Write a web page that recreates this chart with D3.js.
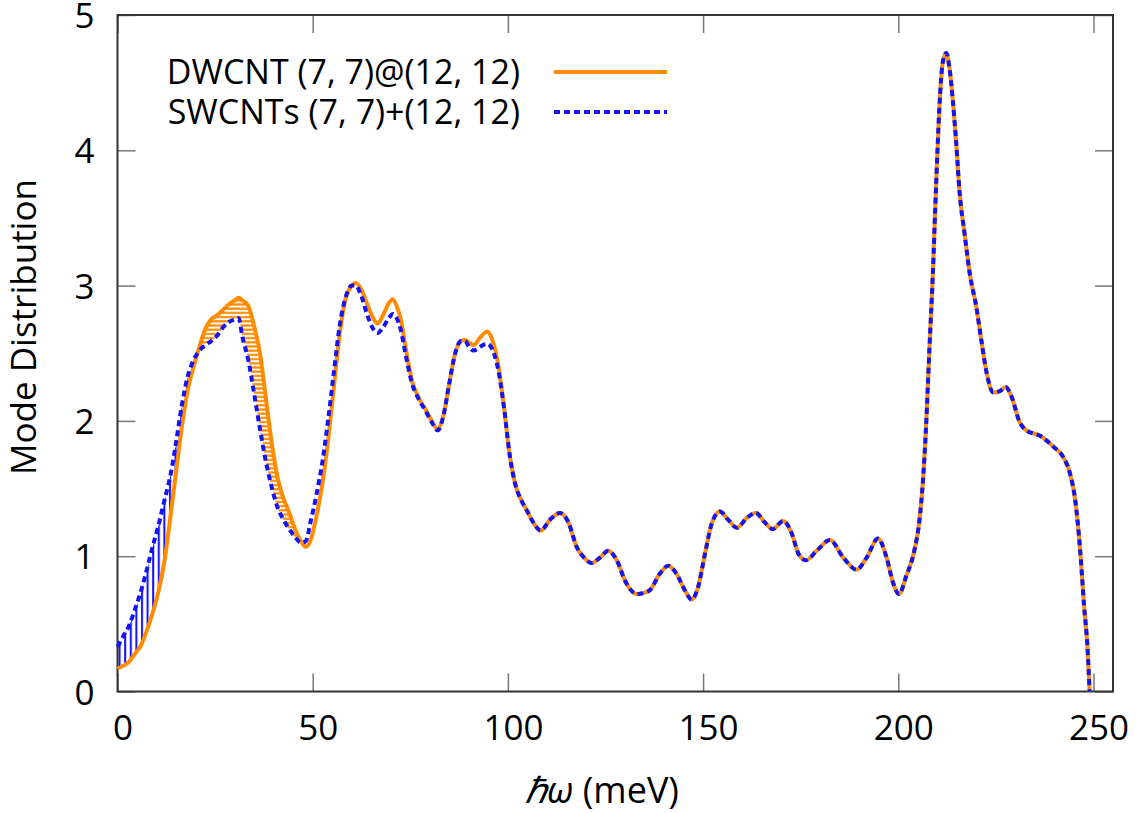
<!DOCTYPE html>
<html lang="en">
	<head>
		<meta charset="utf-8">
		<title>Mode Distribution</title>
		<script type="text/javascript" src="https://d3js.org/d3.v7.min.js"></script>
		<style type="text/css">
            body{margin:0;background:#fff;font-family:"Open Sans",sans-serif;}
            .tick text{font-family:"Open Sans",sans-serif;}
		</style>
	</head>
	<body>
		<div id="chart"></div>
		<script type="text/javascript">
            //energy grid (meV), shared by both curves
            var energy = [0,1.5,3,4.5,6,7.5,9,10.5,12,13.5,15,16.5,18,19.5,21,22.5,24,25.5,27,28.5,30,31,32,33.5,35,36.5,38,39.5,41,42.5,44,45.5,47,48.2,
                49.5,51,52.5,54,55.5,57,58.5,60,61,62.5,64,65.5,66.6,68,69.5,70.5,71.5,72.5,74,75.5,77,79,80.5,82,83.5,85,86.5,88,89,90,91.2,93,94.7,96,97.5,99,
                100.5,102,103.5,105,106.5,108.4,110.8,113.3,115.5,117.6,119.5,121.5,123.6,125.7,127.9,130,131.5,133,135,136.4,138.9,141.1,143.2,145.3,147.1,148.7,
                150.5,152.2,154.3,156.4,158.7,161.1,163.5,165.8,167.8,170.5,172.7,174.4,176.3,179.1,182.5,185.9,189.3,191.9,194.8,197,198.7,200.2,202,204.1,
                205.4,206.3,207.1,208,208.8,209.7,210.5,211.4,212.3,213.1,214,214.8,215.7,217,218.3,220,221.3,222.6,224.3,226,227.5,229,231.1,232.8,236.3,239.7,
                242.3,244,245.3,246.6,247.6,248.5,249]

            //DWCNT (7,7)@(12,12)
            var dwcnt = [0.17,0.19,0.22,0.28,0.34,0.45,0.58,0.74,0.96,1.28,1.62,1.96,2.23,2.40,2.55,2.68,2.75,2.78,2.82,2.86,2.89,2.91,2.89,2.85,2.70,2.50,2.17,1.84,1.58,1.43,1.32,1.20,1.11,1.07,
                1.12,1.30,1.54,1.87,2.27,2.66,2.91,3.00,3.02,2.97,2.86,2.76,2.72,2.78,2.87,2.90,2.85,2.76,2.51,2.29,2.18,2.08,2.00,1.94,2.04,2.28,2.50,2.59,2.60,2.58,2.56,2.62,2.66,2.60,2.42,2.10,
                1.74,1.52,1.41,1.33,1.25,1.19,1.27,1.32,1.25,1.07,0.99,0.95,0.99,1.04,0.97,0.82,0.75,0.72,0.73,0.75,0.87,0.93,0.87,0.75,0.68,0.77,
                1.02,1.24,1.33,1.27,1.21,1.28,1.32,1.25,1.20,1.26,1.17,1.02,0.97,1.04,1.12,0.99,0.90,0.99,1.13,0.99,0.80,0.72,0.85,1.04,
                1.26,1.55,1.95,2.55,3.05,3.75,4.30,4.65,4.72,4.61,4.36,4.07,3.69,3.38,3.09,2.84,2.59,2.36,2.21,2.22,2.25,2.18,1.99,1.93,1.89,1.81,
                1.73,1.61,1.42,1.04,0.63,0.31,0]

            //SWCNTs (7,7)+(12,12)
            var swcnt = [0.33,0.41,0.49,0.61,0.74,0.90,1.07,1.23,1.41,1.59,1.84,2.12,2.33,2.45,2.52,2.56,2.59,2.63,2.69,2.73,2.75,2.76,2.62,2.45,2.20,1.94,1.70,1.51,1.36,1.27,1.20,1.14,1.10,1.11,
                1.26,1.46,1.70,2.02,2.38,2.72,2.92,3.00,3.00,2.92,2.78,2.68,2.65,2.69,2.76,2.79,2.76,2.68,2.46,2.27,2.17,2.07,1.99,1.93,2.04,2.28,2.50,2.59,2.59,2.55,2.52,2.55,2.57,2.53,2.38,2.10,
                1.74,1.52,1.41,1.33,1.25,1.19,1.27,1.32,1.25,1.07,0.99,0.95,0.99,1.04,0.97,0.82,0.75,0.72,0.73,0.75,0.87,0.93,0.87,0.75,0.68,0.77,
                1.02,1.24,1.33,1.27,1.21,1.28,1.32,1.25,1.20,1.26,1.17,1.02,0.97,1.04,1.12,0.99,0.90,0.99,1.13,0.99,0.80,0.72,0.85,1.04,
                1.26,1.55,1.95,2.55,3.05,3.75,4.30,4.65,4.72,4.61,4.36,4.07,3.69,3.38,3.09,2.84,2.59,2.36,2.21,2.22,2.25,2.18,1.99,1.93,1.89,1.81,
                1.73,1.61,1.42,1.04,0.63,0.31,0]

            //hatching between the curves only up to here
            var hatchEnd = 48.2

            var xTicks = [0,50,100,150,200,250]
            var yTicks = [0,1,2,3,4,5]
            var labels = ["DWCNT (7, 7)@(12, 12)","SWCNTs (7, 7)+(12, 12)"]

            var data = energy.map(function(e,i){
                return {e:e, dw:dwcnt[i], sw:swcnt[i]}
            })

            var W = 1138
            var H = 813
            //plot box edges (named so they don't clash with window.top etc)
            var pL = 117.5
            var pR = 1113
            var pT = 15
            var pB = 691.5

            var svg = d3.select("#chart")
                .append("svg")
                .attr("width",W)
                .attr("height",H)

            var xScale = d3.scaleLinear().domain([0,255]).range([pL,pR])
            var yScale = d3.scaleLinear().domain([0,5]).range([pB,pT])

            //patterns for the shaded difference
            var defs = svg.append("defs")
            defs.append("pattern")
                .attr("id","vhatch")
                .attr("patternUnits","userSpaceOnUse")
                .attr("width",5.6).attr("height",10)
                .append("rect")
                .attr("x",1).attr("y",0).attr("width",2).attr("height",10)
                .attr("fill","#1010ff")
            defs.append("pattern")
                .attr("id","hhatch")
                .attr("patternUnits","userSpaceOnUse")
                .attr("width",10).attr("height",4.2)
                .append("rect")
                .attr("x",0).attr("y",1).attr("width",10).attr("height",2.2)
                .attr("fill","#ff8c00")

            var hatchData = data.filter(function(d){ return d.e<=hatchEnd })
            var curve = d3.curveMonotoneX

            var under = function(key){
                return d3.area().curve(curve)
                    .x(function(d){ return xScale(d.e) })
                    .y0(pB)
                    .y1(function(d){ return yScale(d[key]) })
            }
            defs.append("clipPath").attr("id","underSW")
                .append("path").attr("d",under("sw")(hatchData))
            defs.append("clipPath").attr("id","underDW")
                .append("path").attr("d",under("dw")(hatchData))

            var between = d3.area().curve(curve)
                .x(function(d){ return xScale(d.e) })
                .y0(function(d){ return yScale(d.dw) })
                .y1(function(d){ return yScale(d.sw) })

            //SW above DW -> blue vertical lines
            svg.append("path")
                .attr("d",between(hatchData))
                .attr("fill","url(#vhatch)")
                .attr("clip-path","url(#underSW)")
            //DW above SW -> orange horizontal lines
            svg.append("path")
                .attr("d",between(hatchData))
                .attr("fill","url(#hhatch)")
                .attr("clip-path","url(#underDW)")

            //axes with mirrored inward ticks
            var axisStyle = function(g){
                g.select(".domain").remove()
                g.selectAll(".tick line").attr("stroke","#777").attr("stroke-width",1.5)
                g.selectAll(".tick text").attr("fill","#000").style("font-size","35px")
            }
            svg.append("g")
                .attr("transform","translate(0,"+pB+")")
                .call(d3.axisBottom(xScale).tickValues(xTicks).tickSizeInner(-18).tickPadding(24).tickFormat(d3.format("d")))
                .call(axisStyle)
                .selectAll(".tick text").attr("dx",5)
            svg.append("g")
                .attr("transform","translate(0,"+pT+")")
                .call(d3.axisTop(xScale).tickValues(xTicks).tickSizeInner(-18).tickFormat(""))
                .call(axisStyle)
            svg.append("g")
                .attr("transform","translate("+pL+",0)")
                .call(d3.axisLeft(yScale).tickValues(yTicks).tickSizeInner(-18).tickPadding(23).tickFormat(d3.format("d")))
                .call(axisStyle)
                .selectAll(".tick text").attr("dy","0.36em")
            svg.append("g")
                .attr("transform","translate("+pR+",0)")
                .call(d3.axisRight(yScale).tickValues(yTicks).tickSizeInner(-18).tickFormat(""))
                .call(axisStyle)

            //frame
            svg.append("rect")
                .attr("x",pL).attr("y",pT)
                .attr("width",pR-pL).attr("height",pB-pT)
                .attr("fill","none")
                .attr("stroke","#333")
                .attr("stroke-width",2)

            var line = function(key){
                return d3.line().curve(curve)
                    .x(function(d){ return xScale(d.e) })
                    .y(function(d){ return yScale(d[key]) })
            }
            svg.append("path")
                .attr("d",line("dw")(data))
                .attr("fill","none")
                .attr("stroke","#ff8c00")
                .attr("stroke-width",4)
            svg.append("path")
                .attr("d",line("sw")(data))
                .attr("fill","none")
                .attr("stroke","#1414f5")
                .attr("stroke-width",4)
                .attr("stroke-dasharray","6,4")

            //legend
            var legend = svg.append("g")
            legend.selectAll("text")
                .data(labels)
                .enter()
                .append("text")
                .attr("x",520)
                .attr("y",function(d,i){ return 84+i*40 })
                .attr("text-anchor","end")
                .style("font-size","34px")
                .text(function(d){ return d })
            legend.append("line")
                .attr("x1",554).attr("x2",667).attr("y1",72).attr("y2",72)
                .attr("stroke","#ff8c00").attr("stroke-width",4)
            legend.append("line")
                .attr("x1",554).attr("x2",667).attr("y1",112).attr("y2",112)
                .attr("stroke","#1414f5").attr("stroke-width",4)
                .attr("stroke-dasharray","6,4")

            //axis titles
            svg.append("text")
                .attr("transform","translate(36,"+327+") rotate(-90)")
                .attr("text-anchor","middle")
                .style("font-size","35px")
                .text("Mode Distribution")
            var xt = svg.append("text")
                .attr("x",602)
                .attr("y",803)
                .attr("text-anchor","middle")
                .style("font-size","36px")
            xt.append("tspan").style("font-style","italic").text("ℏω")
            xt.append("tspan").text(" (meV)")
        </script>
	</body>
</html>
